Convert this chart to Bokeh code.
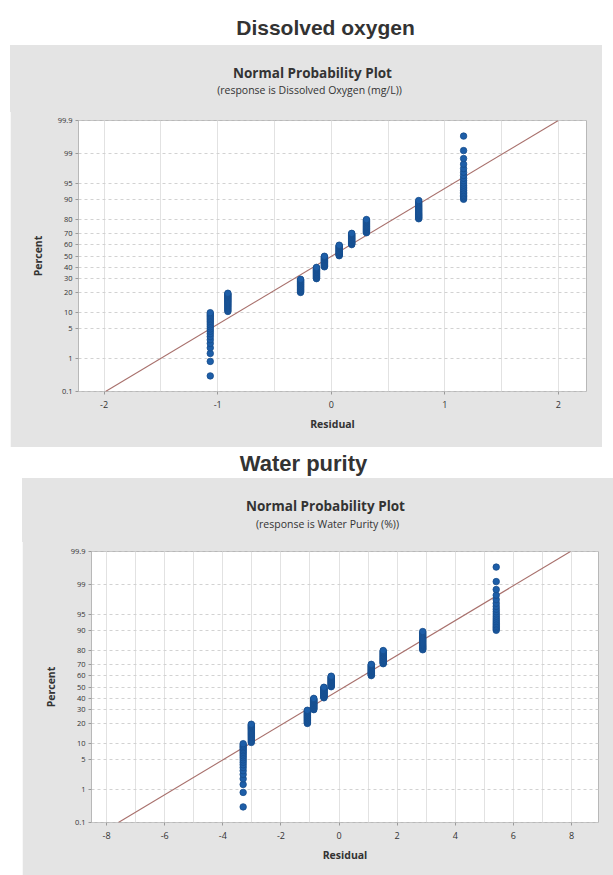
from statistics import NormalDist
import numpy as np
from bokeh.plotting import figure
from bokeh.layouts import column
from bokeh.models import FixedTicker, Range1d
from bokeh.core.properties import value
from bokeh.embed import file_html
from bokeh.resources import INLINE

# ---------------- data ----------------
percent_ticks = [0.1, 1, 5, 10, 20, 30, 40, 50, 60, 70, 80, 90, 95, 99, 99.9]
percent_labels = ["0.1", "1", "5", "10", "20", "30", "40", "50", "60", "70",
                  "80", "90", "95", "99", "99.9"]

# Dissolved oxygen: residual levels (clusters) and number of observations at each
do_levels = [-1.065, -0.91, -0.27, -0.13, -0.06, 0.07, 0.18, 0.31, 0.77, 1.165]
do_counts = [20, 20, 20, 20, 20, 20, 20, 20, 20, 20]
do_xticks = [-2, -1, 0, 1, 2]
do_xminor = [-2, -1.5, -1, -0.5, 0, 0.5, 1, 1.5, 2]
do_xrange = (-2.225, 2.247)

# Water purity
wp_levels = [-3.30, -3.02, -1.09, -0.87, -0.52, -0.27, 1.11, 1.52, 2.88, 5.41]
wp_counts = [20, 20, 20, 20, 20, 20, 20, 20, 20, 20]
wp_xticks = [-8, -6, -4, -2, 0, 2, 4, 6, 8]
wp_xminor = [-8, -7, -6, -5, -4, -3, -2, -1, 0, 1, 2, 3, 4, 5, 6, 7, 8]
wp_xrange = (-8.52, 8.93)

# ---------------- style ----------------
PANEL = "#e4e4e4"
TXT = "#333333"
ND = NormalDist()
Z_LO = ND.inv_cdf(0.001)
Z_HI = ND.inv_cdf(0.999)
zticks = [round(ND.inv_cdf(p / 100.0), 6) for p in percent_ticks]


def header(width, height, bg, texts, margin_left=0):
    p = figure(width=width, height=height, x_range=Range1d(0, width),
               y_range=Range1d(height, 0), toolbar_location=None,
               output_backend="svg", min_border=0, x_axis_location=None,
               y_axis_location=None, border_fill_color=bg,
               background_fill_color=bg, outline_line_color=bg,
               outline_line_width=3,
               margin=(0, 0, 0, margin_left), frame_align=False)
    p.grid.visible = False
    for (tx, ty, t, font, size, style) in texts:
        p.text(x=[tx - margin_left], y=[ty], text=[t], text_align="center",
               text_baseline="middle", text_font=value(font),
               text_font_size=size, text_font_style=style, text_color=TXT)
    return p


def prob_plot(levels, counts, xticks, xminor, xrange, width, height,
              borders, margin):
    resid = np.repeat(np.array(levels, dtype=float), counts)
    resid = np.sort(resid)
    n = len(resid)
    ranks = np.arange(1, n + 1)
    pp = (ranks - 0.375) / (n + 0.25)
    zs = np.array([ND.inv_cdf(v) for v in pp])
    mu = resid.mean()
    sd = resid.std(ddof=1)

    left, right, top, bottom = borders
    p = figure(width=width, height=height,
               x_range=Range1d(*xrange), y_range=Range1d(Z_LO, Z_HI),
               toolbar_location=None, output_backend="svg",
               min_border_left=left, min_border_right=right,
               min_border_top=top, min_border_bottom=bottom,
               border_fill_color=PANEL, background_fill_color="white",
               outline_line_color="#b8b8b8", margin=margin,
               frame_align=False)

    p.xaxis.ticker = FixedTicker(ticks=xticks, minor_ticks=xminor)
    p.yaxis.ticker = FixedTicker(ticks=zticks, minor_ticks=[])
    p.yaxis.major_label_overrides = {z: lab for z, lab in zip(zticks, percent_labels)}
    p.xaxis.major_label_overrides = {t: str(t) for t in xticks}

    p.xgrid.grid_line_color = "#e2e2e2"
    p.xgrid.minor_grid_line_color = "#e2e2e2"
    p.ygrid.grid_line_color = "#d2d2d2"
    p.ygrid.grid_line_dash = "3 3"

    for ax in (p.xaxis, p.yaxis):
        ax.axis_line_color = None
        ax.major_tick_line_color = "#9a9a9a"
        ax.major_tick_out = 3
        ax.major_tick_in = 0
        ax.minor_tick_line_color = None
        ax.major_label_text_color = TXT
        ax.major_label_text_font = "Open Sans"
        ax.axis_label_text_font = "Open Sans"
        ax.axis_label_text_font_style = "bold"
        ax.axis_label_text_font_size = "10.5px"
        ax.axis_label_text_color = TXT
    p.yaxis.major_label_text_font_size = "7.5px"
    p.xaxis.major_label_text_font_size = "9px"
    p.yaxis.major_label_standoff = 3
    p.xaxis.major_label_standoff = 5
    p.yaxis.axis_label = "Percent"
    p.xaxis.axis_label = "Residual"
    p.yaxis.axis_label_standoff = 10
    p.xaxis.axis_label_standoff = 6

    # fitted normal line from the residuals' mean and standard deviation
    p.line(x=[mu + Z_LO * sd, mu + Z_HI * sd], y=[Z_LO, Z_HI],
           line_color="#a8706c", line_width=1.1)
    p.scatter(x=resid, y=zs, size=6.5, fill_color="#1d5ea8",
              line_color="#174d8c", line_width=0.8)
    return p


h1 = header(613, 45, "white",
            [(325, 27, "Dissolved oxygen", "Liberation Sans", "21px", "bold")])
t1 = header(592, 67, PANEL,
            [(312 - 10, 72 - 45, "Normal Probability Plot", "Open Sans", "13.5px", "bold"),
             (309 - 10, 89 - 45, "(response is Dissolved Oxygen (mg/L))", "Open Sans", "10.5px", "normal")])
t1.margin = (0, 0, 0, 10)
p1 = prob_plot(do_levels, do_counts, do_xticks, do_xminor, do_xrange,
               592, 337, (68, 16, 10, 56), (-2, 0, 0, 10))

h2 = header(613, 31, "white",
            [(303, 16, "Water purity", "Liberation Sans", "22px", "bold")])
t2 = header(591, 64, PANEL,
            [(325 - 22, 505 - 478, "Normal Probability Plot", "Open Sans", "13.5px", "bold"),
             (327 - 22, 523 - 478, "(response is Water Purity (%))", "Open Sans", "10.5px", "normal")])
t2.margin = (0, 0, 0, 22)
p2 = prob_plot(wp_levels, wp_counts, wp_xticks, wp_xminor, wp_xrange,
               591, 335, (69, 15, 11, 53), (-2, 0, 0, 22))

layout = column(h1, t1, p1, h2, t2, p2, spacing=0)
open("out.html", "w").write(file_html(layout, INLINE))
